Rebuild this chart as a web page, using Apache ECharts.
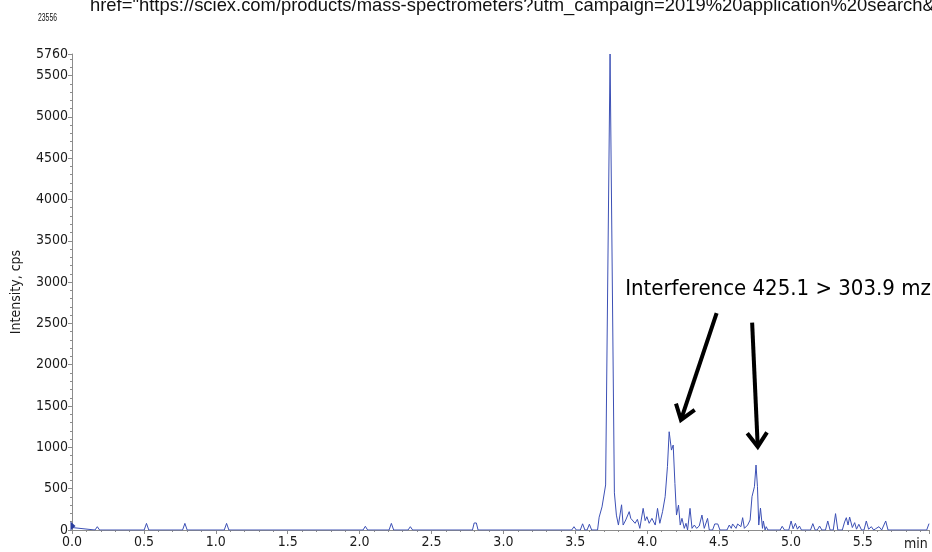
<!DOCTYPE html>
<html><head><meta charset="utf-8">
<script src="https://cdn.jsdelivr.net/npm/echarts@6/dist/echarts.min.js"></script>
<style>html,body{margin:0;padding:0;background:#fff}#c{width:932px;height:552px}</style>
</head><body><div id="c"></div>
<script>
// ---- data (retention time in min, intensity in cps) ----
const times = [
0.000, 0.160, 0.176, 0.192,
0.502, 0.518, 0.534,
0.769, 0.785, 0.801,
1.059, 1.075, 1.091,
2.024, 2.040, 2.056,
2.205, 2.221, 2.237,
2.337, 2.353, 2.369,
2.785, 2.797, 2.812, 2.824,
3.475, 3.491, 3.507,
3.535, 3.551, 3.567,
3.582, 3.598, 3.614,
3.655, 3.666, 3.686, 3.711, 3.742, 3.772, 3.786, 3.800, 3.822, 3.833, 3.851, 3.875, 3.886, 3.898, 3.916, 3.932, 3.949, 3.972, 3.986, 3.998,
4.014, 4.033, 4.056, 4.072, 4.088, 4.107, 4.125, 4.141, 4.153, 4.169, 4.181, 4.193, 4.204, 4.218, 4.230, 4.242, 4.258, 4.270, 4.281, 4.298,
4.312, 4.328, 4.344, 4.362, 4.381, 4.397, 4.420, 4.432, 4.455, 4.470, 4.491, 4.506, 4.555, 4.571, 4.585, 4.594, 4.618, 4.629, 4.652, 4.664,
4.676, 4.699, 4.716, 4.729, 4.746, 4.757, 4.767, 4.776, 4.788, 4.802, 4.808, 4.820, 4.828, 4.840,
4.925, 4.939, 4.955,
4.985, 5.001, 5.015, 5.031, 5.045, 5.059, 5.073,
5.136, 5.152, 5.168,
5.183, 5.199, 5.215,
5.240, 5.256, 5.272,
5.294, 5.310, 5.326,
5.357, 5.373, 5.385, 5.397, 5.408, 5.427, 5.443, 5.456, 5.472, 5.491,
5.508, 5.524, 5.540, 5.559, 5.575, 5.589, 5.612, 5.631,
5.643, 5.659, 5.675,
5.944, 5.960
];
const intensities = [
30, 0, 40, 0,
0, 80, 0,
0, 80, 0,
0, 80, 0,
0, 45, 0,
0, 80, 0,
0, 40, 0,
0, 85, 85, 0,
0, 40, 0,
0, 75, 0,
0, 70, 0,
0, 155, 280, 545, 5760, 450, 180, 60, 305, 60, 121, 222, 141, 153, 81, 129, 20, 262, 113, 161,
81, 141, 60, 262, 81, 222, 403, 766, 1189, 967, 1028, 564, 181, 302, 60, 141, 20, 81, 0, 262,
20, 60, 20, 48, 181, 20, 141, 0, 0, 73, 73, 0, 0, 60, 20, 73, 20, 73, 40, 149,
20, 60, 121, 403, 524, 786, 524, 60, 265, 20, 109, 0, 40, 0,
0, 45, 0,
0, 109, 15, 81, 10, 48, 0,
0, 77, 0,
0, 48, 0,
0, 109, 0,
0, 198, 0,
0, 97, 149, 60, 157, 30, 89, 10, 69, 0,
0, 109, 10, 40, 0, 15, 40, 0,
0, 109, 0,
0, 77
];
const xRange = [0, 5.96];
const yRange = [0, 5760];
const xTickStep = 0.5;
const yTickStep = 500;
const xName = 'min';
const yName = 'Intensity, cps';
const annotationText = 'Interference 425.1 > 303.9 mz';
const annotationAnchor = [3.847, 2918];
const arrows = [
  [[4.483, 2623], [4.235, 1332]],
  [[4.730, 2510], [4.769, 1008]]
];
const headerId = '23556';
const headerText = 'href="https://sciex.com/products/mass-spectrometers?utm_campaign=2019%20application%20search&';

const FONT = "'DejaVu Sans Condensed', 'DejaVu Sans', sans-serif";
const seriesData = times.map((t, i) => [t, intensities[i]]);

const chart = echarts.init(document.getElementById('c'), null, {renderer: 'canvas'});
const axisColor = '#8c8c8c';
chart.setOption({
  animation: false,
  backgroundColor: '#ffffff',
  grid: {left: 72, right: 3, top: 54, bottom: 22, containLabel: false},
  xAxis: {
    type: 'value', min: xRange[0], max: xRange[1], interval: xTickStep,
    axisLine: {show: true, lineStyle: {color: axisColor, width: 1}},
    axisTick: {show: true, length: 4, lineStyle: {color: axisColor}},
    minorTick: {show: true, splitNumber: 5, length: 2, lineStyle: {color: axisColor}},
    splitLine: {show: false}, minorSplitLine: {show: false},
    axisLabel: {formatter: v => v.toFixed(1), color: '#1a1a1a', fontSize: 14, fontFamily: FONT, margin: 5, showMaxLabel: false},
    name: xName, nameLocation: 'end', nameGap: -25,
    nameTextStyle: {color: '#1a1a1a', fontSize: 14, fontFamily: FONT, align: 'left', verticalAlign: 'top', padding: [7, 0, 0, 0]}
  },
  yAxis: {
    type: 'value', min: yRange[0], max: yRange[1], interval: yTickStep,
    axisLine: {show: true, lineStyle: {color: axisColor, width: 1}},
    axisTick: {show: true, length: 4, lineStyle: {color: axisColor}},
    minorTick: {show: true, splitNumber: 5, length: 2, lineStyle: {color: axisColor}},
    splitLine: {show: false}, minorSplitLine: {show: false},
    axisLabel: {formatter: v => String(Math.round(v)), color: '#1a1a1a', fontSize: 14, fontFamily: FONT, margin: 4, showMaxLabel: true},
    name: yName, nameLocation: 'middle', nameGap: 49,
    nameTextStyle: {color: '#1a1a1a', fontSize: 14, fontFamily: FONT}
  },
  series: [{
    type: 'line', data: seriesData, showSymbol: false, symbol: 'none',
    lineStyle: {color: '#3c50b5', width: 1},
    itemStyle: {color: '#3c50b5'},
    markPoint: {
      silent: true, symbol: 'triangle', symbolRotate: -90, symbolSize: [9, 5], symbolOffset: [1, -4],
      itemStyle: {color: '#2a3d9e'}, label: {show: false},
      data: [{coord: [xRange[0], 0]}]
    }
  }]
});

// annotation arrows & text placed from data coordinates
const graphics = [];
arrows.forEach(([from, to]) => {
  const p0 = chart.convertToPixel({gridIndex: 0}, from);
  const p1 = chart.convertToPixel({gridIndex: 0}, to);
  const ang = Math.atan2(p1[1] - p0[1], p1[0] - p0[0]);
  const L = 17, spread = 0.62;
  const a1 = [p1[0] - L * Math.cos(ang - spread), p1[1] - L * Math.sin(ang - spread)];
  const a2 = [p1[0] - L * Math.cos(ang + spread), p1[1] - L * Math.sin(ang + spread)];
  graphics.push({type: 'polyline', silent: true, shape: {points: [p0, p1]}, style: {stroke: '#000', lineWidth: 4, fill: null}});
  graphics.push({type: 'polyline', silent: true, shape: {points: [a1, p1, a2]}, style: {stroke: '#000', lineWidth: 4, fill: null, lineJoin: 'miter'}});
});
const tp = chart.convertToPixel({gridIndex: 0}, annotationAnchor);
graphics.push({type: 'text', silent: true, x: tp[0], y: tp[1], style: {text: annotationText, fill: '#000', fontSize: 22, fontFamily: FONT, verticalAlign: 'middle', align: 'left'}});
graphics.push({type: 'text', silent: true, x: 38, y: 18, scaleX: 0.62, style: {text: headerId, fill: '#111', fontSize: 11, fontFamily: "'Liberation Sans', sans-serif", verticalAlign: 'middle', align: 'left'}});
graphics.push({type: 'text', silent: true, x: 90, y: 15, style: {text: headerText, fill: '#111', fontSize: 18.4, fontFamily: "'Liberation Sans Narrow', 'Liberation Sans', sans-serif", verticalAlign: 'bottom', align: 'left'}});
chart.setOption({graphic: graphics});
</script>
</body></html>
